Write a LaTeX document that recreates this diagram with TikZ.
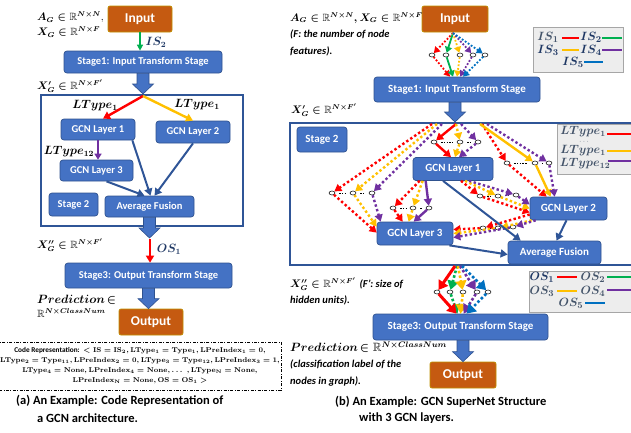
\documentclass[tikz,border=0pt]{standalone}
\usepackage{fontspec}
\setsansfont{Carlito}
\usepackage{amssymb}
\usepackage{bm}
\usetikzlibrary{arrows.meta,calc,shapes.geometric}

\definecolor{boxblue}{HTML}{4472C4}
\definecolor{boxline}{HTML}{2F528F}
\definecolor{frameblue}{HTML}{2F5597}
\definecolor{orng}{HTML}{C55A11}
\definecolor{orngline}{HTML}{BF9000}
\definecolor{cred}{HTML}{FF0000}
\definecolor{cyel}{HTML}{FFC000}
\definecolor{cpur}{HTML}{7030A0}
\definecolor{cgrn}{HTML}{00B050}
\definecolor{cblu}{HTML}{0070C0}
\definecolor{navy}{HTML}{1F3864}
\definecolor{slate}{HTML}{44546A}
\definecolor{legfill}{HTML}{EDEDED}
\definecolor{legline}{HTML}{A6A6A6}

\newcommand{\cm}[1]{{\boldmath$\mathbf{#1}$}}
\newcommand{\bmm}[1]{{\boldmath$#1$}}
\newcommand{\blkarr}[2]{%
  \path let \p1=(#1), \p2=(#2) in [fill=boxblue, draw=boxline, line width=0.6pt]
  ({\x1-6pt},\y1) -- ({\x1-6pt},{\y2+10pt}) -- ({\x1-10.5pt},{\y2+10pt}) -- (\x1,\y2)
  -- ({\x1+10.5pt},{\y2+10pt}) -- ({\x1+6pt},{\y2+10pt}) -- ({\x1+6pt},\y1) -- cycle;}

\tikzset{
  bbox/.style={draw=boxline, fill=boxblue, rounded corners=3pt, text=white, inner sep=0pt,
    line width=0.7pt, font=\sffamily\bfseries\fontsize{10.5}{12}\selectfont},
  bboxR/.style={bbox, font=\sffamily\bfseries\fontsize{11}{12}\selectfont},
  obox/.style={draw=orngline, fill=orng, rounded corners=2pt, text=white, inner sep=0pt,
    line width=0.7pt, font=\sffamily\bfseries\fontsize{13.5}{15}\selectfont},
  frm/.style={draw=frameblue, line width=2pt, inner sep=0pt},
  sc/.style={ellipse, draw=black, fill=white, inner sep=0pt, minimum width=6pt,
    minimum height=4pt, line width=0.5pt},
  gapd/.style={black, line width=0.6pt, dash pattern=on 1.5pt off 1.2pt, shorten >=4pt, shorten <=4pt},
  tipS/.style={-{Triangle[length=7pt,width=8pt]}},
  tipB/.style={-{Triangle[length=9pt,width=11pt]}},
  soll/.style={line width=2.4pt, tipS},
  dotl/.style={line width=2.4pt, dash pattern=on 2.4pt off 2.4pt, tipS},
  solS/.style={line width=1.8pt, -{Triangle[length=6pt,width=7pt]}},
  dotS/.style={line width=1.8pt, dash pattern=on 1.8pt off 1.8pt, -{Triangle[length=6pt,width=7pt]}},
  solB/.style={line width=3pt, tipB},
  dotB/.style={line width=2.6pt, dash pattern=on 2.6pt off 2.2pt, tipB},
  bluarr/.style={draw=frameblue, line width=2pt, -{Triangle[length=7pt,width=8pt]}},
  mlab/.style={inner sep=0pt, font=\fontsize{10.5}{12}\selectfont},
  llab/.style={inner sep=0pt, font=\fontsize{12}{14}\selectfont},
  glab/.style={inner sep=0pt, font=\fontsize{12.5}{14}\selectfont},
  itl/.style={inner sep=0pt, anchor=west, font=\sffamily\bfseries\itshape\fontsize{10.5}{12}\selectfont},
  capt/.style={inner sep=0pt, anchor=west, font=\sffamily\bfseries\fontsize{12.5}{14}\selectfont},
  leg/.style={draw=legline, fill=legfill, line width=0.8pt, inner sep=0pt},
}

\begin{document}
\begin{tikzpicture}[x=1pt,y=-1pt]
\useasboundingbox (0,0) rectangle (631,432);

% ================= LEFT PANEL =================
\node[obox, minimum width=64pt, minimum height=26pt] (inL) at (140,19) {Input};
\node[mlab, anchor=west] (agL) at (37,17) {\bmm{A_G\in\mathbb{R}^{N\times N}},};
\node[mlab, anchor=west] (xgL) at (37,32) {\bmm{X_G\in\mathbb{R}^{N\times F}}};
\node[bbox, minimum width=158pt, minimum height=22pt] (s1L) at (143,62) {Stage1: Input Transform Stage};
\draw[cgrn, line width=1.6pt, -{Triangle[length=6pt,width=6pt]}] (inL.south) -- (inL.south |- s1L.north);
\node[llab, text=navy] (is2L) at (156,42) {\bmm{IS_2}};
\node[mlab, anchor=west] (xpL) at (37,86) {\bmm{X'_G\in\mathbb{R}^{N\times F'}}};

\node[frm, minimum width=202pt, minimum height=131pt] (st2L) at (142,160.5) {};
\blkarr{s1L.south}{s1L.south |- st2L.north}
\coordinate (tL) at (143,96);

\node[bbox, minimum width=74pt, minimum height=21pt] (g1L) at (98,129.5) {GCN Layer 1};
\node[bbox, minimum width=74pt, minimum height=22pt] (g2L) at (193,132) {GCN Layer 2};
\node[bbox, minimum width=73pt, minimum height=21pt] (g3L) at (96.5,170.5) {GCN Layer 3};
\node[bbox, minimum width=49pt, minimum height=23pt] (st2sL) at (73.5,204.5) {Stage 2};
\node[bbox, minimum width=89pt, minimum height=21pt] (avL) at (149.5,206.5) {Average Fusion};

\draw[cred, soll] (tL) -- ($(g1L.north)+(5,0)$);
\draw[cyel, soll] (tL) -- (g2L.north);
\draw[cpur, line width=2pt, -{Triangle[length=6pt,width=7pt]}] (g1L.south) -- (g1L.south |- g3L.north);
\node[llab] (lt1L) at (95,106) {\bmm{LType_1}};
\node[llab] (lt1Lb) at (197,105) {\bmm{LType_1}};
\node[llab] (lt12L) at (69,152) {\bmm{LType_{12}}};

\draw[bluarr] ($(g1L.south east)+(-3,0)$) -- ($(avL.north)+(1,0)$);
\draw[bluarr] (g2L.south) -- ($(avL.north)+(5,0)$);
\draw[bluarr] ($(g3L.south)+(10,0)$) -- ($(avL.north)+(-5,0)$);

\coordinate (osL) at (150,238);
\blkarr{avL.south}{osL}
\node[bbox, minimum width=167pt, minimum height=25pt] (s3L) at (148.5,275.5) {Stage3: Output Transform Stage};
\draw[cred, line width=2.2pt, -{Triangle[length=7pt,width=8pt]}] ($(osL)+(0,1)$) -- (osL |- s3L.north);
\node[mlab, anchor=west] (xppL) at (37,245) {\bmm{X''_G\in\mathbb{R}^{N\times F'}}};
\node[llab, text=navy] (os1L) at (169,249) {\bmm{OS_1}};

\node[obox, minimum width=64pt, minimum height=26pt] (outL) at (151,322) {Output};
\blkarr{s3L.south}{s3L.south |- outL.north}
\node[llab, anchor=west] (prL) at (37,300) {\bmm{Prediction}\,\bmm{\in}};
\node[mlab, anchor=west] (prL2) at (37,313) {\bmm{\mathbb{R}^{N\times ClassNum}}};

\node[draw, line width=0.6pt, dash pattern=on 3pt off 1.5pt on 0.8pt off 1.5pt,
  minimum width=266pt, minimum height=48pt, inner sep=1pt, align=center,
  font=\fontsize{7.3}{10}\selectfont] (code) at (140,366) {%
  \textsf{\textbf{Code Representation:}} \cm{<IS=IS_2, LType_1=Type_1, LPreIndex_1=0,}\\
  \cm{LType_2=Type_{11}, LPreIndex_2=0, LType_3=Type_{12}, LPreIndex_3=1,}\\
  \cm{LType_4=None, LPreIndex_4=None, \ldots\ , LType_N=None,}\\
  \cm{LPreIndex_N=None, OS=OS_1>}};

\node[capt] (capA1) at (16,401) {(a) An Example: Code Representation of};
\node[capt] (capA2) at (37,418) {a GCN architecture.};

% ================= RIGHT PANEL =================
\node[obox, minimum width=66pt, minimum height=26pt] (inR) at (455,19) {Input};
\node[mlab, anchor=west] (agR) at (290,18) {\bmm{A_G\in\mathbb{R}^{N\times N}, X_G\in\mathbb{R}^{N\times F}}};
\node[itl] (fR1) at (290,34) {(F: the number of node};
\node[itl] (fR2) at (290,51) {features).};

\node[bboxR, minimum width=166pt, minimum height=25pt] (s1R) at (457,89.5) {Stage1: Input Transform Stage};

% IS selection
\coordinate (isS) at (453,33);
\node[sc] (i1) at (432,55) {};
\node[sc] (i2) at (446,55) {};
\node[sc] (i3) at (460,55) {};
\node[sc] (i4) at (473,55) {};
\node[sc] (i5) at (485,55) {};
\draw[dotS, cred] (isS) -- (i1);
\draw[solS, cgrn] (isS) -- (i2);
\draw[dotS, cyel] (isS) -- (i3);
\draw[dotS, cpur] (isS) -- (i4);
\draw[dotS, cblu] (isS) -- (i5);
\draw[dotS, cred] (i1) -- ($(s1R.north)+(-7,0)$);
\draw[solS, cgrn] (i2) -- ($(s1R.north)+(-4,0)$);
\draw[dotS, cyel] (i3) -- ($(s1R.north)+(0,0)$);
\draw[dotS, cpur] (i4) -- ($(s1R.north)+(3,0)$);
\draw[dotS, cblu] (i5) -- ($(s1R.north)+(6,0)$);

% IS legend
\node[leg, minimum width=90pt, minimum height=45pt] (isleg) at (578,49.5) {};
\node[glab, text=slate] (lis1) at (548,37) {\bmm{IS_1}};
\node[glab, text=navy] (lis2) at (591,37) {\bmm{IS_2}};
\node[glab, text=navy] (lis3) at (548,50) {\bmm{IS_3}};
\node[glab, text=navy] (lis4) at (591,50) {\bmm{IS_4}};
\node[glab, text=navy] (lis5) at (573,62) {\bmm{IS_5}};
\draw[cred, line width=1.8pt] (562,38) -- (579,38);
\draw[cgrn, line width=1.8pt] (602,38) -- (622,38);
\draw[cyel, line width=1.8pt] (562,50) -- (579,50);
\draw[cpur, line width=1.8pt] (602,50) -- (622,50);
\draw[cblu, line width=1.8pt] (584,62) -- (603,62);

\node[mlab, anchor=west] (xpR) at (291,110) {\bmm{X'_G\in\mathbb{R}^{N\times F'}}};
\node[frm, minimum width=344pt, minimum height=142pt] (stR) at (462,194) {};
\blkarr{$(s1R.south)+(-2,0)$}{$(s1R.south |- stR.north)+(-2,0)$}

\node[bboxR, minimum width=50pt, minimum height=25pt] (st2sR) at (322,139.5) {Stage 2};
\node[bboxR, minimum width=80pt, minimum height=23pt] (g1R) at (453,169) {GCN Layer 1};
\node[bboxR, minimum width=77pt, minimum height=23pt] (g2R) at (568.5,208.5) {GCN Layer 2};
\node[bboxR, minimum width=76pt, minimum height=23pt] (g3R) at (415,233.5) {GCN Layer 3};
\node[bboxR, minimum width=93pt, minimum height=23pt] (avR) at (554.5,252.5) {Average Fusion};

% LType legend
\node[leg, minimum width=78pt, minimum height=50pt] (ltleg) at (596,149) {};
\node[llab, text=slate] (llt1) at (583,132) {\bmm{LType_1}};
\node[inner sep=0pt, text=slate, font=\fontsize{7}{8}\selectfont] (lltd) at (584,141.5) {$\cdots$};
\node[llab, text=slate] (llt2) at (583,151) {\bmm{LType_1}};
\node[llab, text=slate] (llt3) at (585,164) {\bmm{LType_{12}}};
\draw[cred, line width=2pt] (607,134) -- (632,134);
\draw[cyel, line width=2pt] (607,151) -- (632,151);
\draw[cpur, line width=2pt] (608,161) -- (632,161);

% Group A: input -> GCN1
\coordinate (aS) at (456,124);
\node[sc] (a1) at (434,142) {};
\node[sc] (a2) at (460,142) {};
\node[sc] (a3) at (478,142) {};
\draw[gapd] (a1) -- (a2);
\draw[gapd] (a2) -- (a3);
\draw[soll, cred] (aS) -- (a1);
\draw[soll, cred] (a1) -- ($(g1R.north)+(-2,0)$);
\draw[dotl, cyel] (aS) -- (a2);
\draw[dotl, cyel] (a2) -- ($(g1R.north)+(2,0)$);
\draw[dotl, cpur] ($(aS)+(5,0)$) -- (a3);
\draw[dotl, cpur] (a3) -- ($(g1R.north)+(6,0)$);

% Group B: input -> GCN2
\coordinate (bS) at (480,124);
\node[sc] (b1) at (507,163) {};
\node[sc] (b2) at (535,163) {};
\node[sc] (b3) at (549,163) {};
\draw[gapd] (b1) -- (b2);
\draw[gapd] (b2) -- (b3);
\draw[dotl, cred] ($(bS)+(2,0)$) -- (b1);
\draw[dotl, cred] (b1) -- ($(g2R.north west)+(17,0)$);
\draw[soll, cyel] (bS) -- (b2);
\draw[soll, cyel] (b2) -- ($(g2R.north west)+(21,0)$);
\draw[dotl, cpur] ($(bS)+(7,0)$) -- (b3);
\draw[dotl, cpur] (b3) -- ($(g2R.north west)+(25,0)$);

% Group C: input -> GCN3
\coordinate (cS1) at (432,124);
\coordinate (cS2) at (437,124);
\coordinate (cS3) at (442,124);
\node[sc] (c1) at (332,193) {};
\node[sc] (c2) at (353,193) {};
\node[sc] (c3) at (372,193) {};
\draw[gapd] (c1) -- (c2);
\draw[gapd] (c2) -- (c3);
\draw[dotl, cred] (cS1) -- (c1);
\draw[dotl, cyel] (cS2) -- (c2);
\draw[dotl, cpur] (cS3) -- (c3);
\draw[dotl, cred] (c1) -- ($(g3R.north west)+(0,11)$);
\draw[dotl, cyel] (c2) -- ($(g3R.north west)+(0,5)$);
\draw[dotl, cpur] (c3) -- ($(g3R.north west)+(4,0)$);

% Group D: GCN1 -> GCN3
\node[sc] (d1) at (393,208) {};
\node[sc] (d2) at (413,208) {};
\node[sc] (d3) at (429,208) {};
\draw[gapd] (d1) -- (d2);
\draw[gapd] (d2) -- (d3);
\draw[dotl, cred] ($(g1R.south west)+(7,0)$) -- (d1);
\draw[dotl, cyel] ($(g1R.south west)+(10,0)$) -- (d2);
\draw[soll, cpur] ($(g1R.south west)+(13,0)$) -- (d3);
\draw[dotl, cred] (d1) -- ($(g3R.north west)+(26,0)$);
\draw[dotl, cyel] (d2) -- ($(g3R.north west)+(32,0)$);
\draw[soll, cpur] (d3) -- ($(g3R.north west)+(37,0)$);

% Group E: GCN1 -> GCN2
\node[sc] (e1) at (480,196) {};
\node[sc] (e2) at (498,196) {};
\node[sc] (e3) at (516,195) {};
\draw[gapd] (e1) -- (e2);
\draw[gapd] (e2) -- (e3);
\draw[dotl, cred] ($(g1R.south)+(8,0)$) -- (e1);
\draw[dotl, cyel] ($(g1R.south)+(12,0)$) -- (e2);
\draw[dotl, cpur] ($(g1R.south)+(16,0)$) -- (e3);
\draw[dotl, cred] (e1) -- ($(g2R.west)+(0,4)$);
\draw[dotl, cyel] (e2) -- ($(g2R.west)+(0,0)$);
\draw[dotl, cpur] (e3) -- ($(g2R.west)+(0,-4)$);

% Group F: GCN2 -> GCN3
\node[sc] (f1) at (483,228) {};
\node[sc] (f2) at (498,228) {};
\node[sc] (f3) at (513,227) {};
\draw[gapd] (f1) -- (f2);
\draw[gapd] (f2) -- (f3);
\draw[dotl, cred] ($(g2R.west)+(0,6)$) -- (f1);
\draw[dotl, cyel] ($(g2R.south west)+(2,0)$) -- (f2);
\draw[dotl, cpur] ($(g2R.south west)+(6,0)$) -- (f3);
\draw[dotl, cred] (f1) -- ($(g3R.east)+(0,-4)$);
\draw[dotl, cyel] (f2) -- ($(g3R.east)+(0,0)$);
\draw[dotl, cpur] (f3) -- ($(g3R.east)+(0,4)$);

% blue arrows to Average Fusion
\draw[bluarr] ($(g1R.south)+(-10,0)$) -- ($(avR.north west)+(13,0)$);
\draw[bluarr] ($(g2R.south)+(-2,0)$) -- ($(avR.north)+(2,0)$);
\draw[bluarr] ($(g3R.south east)+(-4,0)$) -- ($(avR.west)+(0,2)$);

% OS part
\node[mlab, anchor=west] (xppR) at (290,284) {\bmm{X''_G\in\mathbb{R}^{N\times F'}}\ \textsf{\textbf{\textit{(F': size of}}}};
\node[itl] (huR) at (290,300) {hidden units).};
\node[bboxR, minimum width=175pt, minimum height=26pt] (s3R) at (460.5,327) {Stage3: Output Transform Stage};

\coordinate (oS) at (455,266);
\node[sc] (o1) at (437,292) {};
\node[sc] (o2) at (450,292) {};
\node[sc] (o3) at (463,292) {};
\node[sc] (o4) at (477,292) {};
\node[sc] (o5) at (488,292) {};
\draw[dotB, cgrn] ($(oS)+(2,0)$) -- (o2);
\draw[dotB, cyel] ($(oS)+(3,0)$) -- (o3);
\draw[dotB, cpur] ($(oS)+(5,0)$) -- (o4);
\draw[dotB, cblu] ($(oS)+(7,0)$) -- (o5);
\draw[solB, cred] (oS) -- (o1);
\draw[dotB, cgrn] (o2) -- ($(s3R.north)+(-3,0)$);
\draw[dotB, cyel] (o3) -- ($(s3R.north)+(0,0)$);
\draw[dotB, cpur] (o4) -- ($(s3R.north)+(3,0)$);
\draw[dotB, cblu] (o5) -- ($(s3R.north)+(6,0)$);
\draw[solB, cred] (o1) -- ($(s3R.north)+(-4,0)$);

% OS legend
\node[leg, minimum width=104pt, minimum height=41pt] (osleg) at (581,291.5) {};
\node[glab, text=navy] (los1) at (542,277) {\bmm{OS_1}};
\node[glab, text=slate] (los2) at (593,277) {\bmm{OS_2}};
\node[glab, text=slate] (los3) at (542,291) {\bmm{OS_3}};
\node[glab, text=slate] (los4) at (593,291) {\bmm{OS_4}};
\node[glab, text=slate] (los5) at (571,303) {\bmm{OS_5}};
\draw[cred, line width=1.8pt] (557,277) -- (577,277);
\draw[cgrn, line width=1.8pt] (607,277) -- (631,277);
\draw[cyel, line width=1.8pt] (557,291) -- (577,291);
\draw[cpur, line width=1.8pt] (607,290) -- (631,290);
\draw[cblu, line width=1.8pt] (585,303) -- (605,303);

\node[obox, minimum width=66pt, minimum height=26pt] (outR) at (463,375) {Output};
\blkarr{$(s3R.south)+(2.5,0)$}{$(s3R.south |- outR.north)+(2.5,0)$}
\node[llab, anchor=west] (prR) at (290,347) {\bmm{Prediction}\,\bmm{\in\mathbb{R}^{N\times ClassNum}}};
\node[itl] (clR1) at (290,364) {(classification label of the};
\node[itl] (clR2) at (290,381) {nodes in graph).};

\node[capt] (capB1) at (335,402) {(b) An Example: GCN SuperNet Structure};
\node[capt] (capB2) at (359,418) {with 3 GCN layers.};
\end{tikzpicture}
\end{document}
